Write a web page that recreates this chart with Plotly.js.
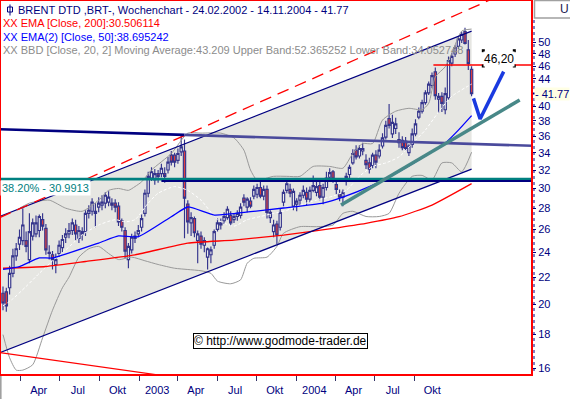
<!DOCTYPE html>
<html><head><meta charset="utf-8">
<script src="https://cdn.plot.ly/plotly-3.0.1.min.js"></script>
<style>html,body{margin:0;padding:0;background:#fff;}#chart{width:570px;height:399px;}</style>
</head><body><div id="chart"></div>
<script>
// ---------- DATA ----------
const firstWeek = '2002-02-24';
const openP  = [20.8,20.9,21.2,22.3,23.7,24.7,25.0,25.0,23.4,25.4,25.6,25.9,26.9,26.1,23.9,23.8,23.0,23.9,24.4,25.3,25.6,25.9,26.4,25.2,25.8,25.8,27.5,27.7,27.7,28.1,28.3,28.5,28.6,28.5,28.5,28.2,26.8,25.9,23.4,24.2,25.2,25.6,26.2,27.5,29.5,31.1,30.9,31.6,31.6,31.6,32.0,33.7,33.7,33.1,34.1,34.2,28.4,26.6,27.0,25.0,25.4,24.6,23.6,23.8,24.6,26.0,26.4,26.8,27.1,27.3,26.9,27.2,27.3,29.0,28.1,28.7,29.2,29.4,30.1,29.2,29.9,27.1,25.8,26.5,26.2,28.6,29.8,29.9,28.2,28.4,28.8,29.3,29.6,28.9,29.8,29.6,30.3,29.1,30.1,31.2,31.8,30.4,29.4,29.1,30.8,31.5,32.8,34.3,33.6,34.2,33.1,32.8,32.5,33.7,33.6,34.8,35.9,38.3,36.3,37.0,35.6,35.5,35.4,34.0,35.0,36.3,38.5,39.3,40.5,41.9,43.0,45.1,41.0,41.4,39.5,41.2,46.5,48.0,49.3,50.4,51.9,48.7,45.5];
const highP  = [21.3,21.2,22.9,24.3,24.8,26.0,28.0,25.8,27.5,27.0,27.3,27.4,27.5,26.5,24.6,24.1,23.9,25.0,25.5,26.1,26.6,27.0,26.9,26.3,26.2,27.8,28.3,29.0,28.5,29.1,29.3,29.6,29.7,29.0,28.9,28.6,27.0,26.2,24.8,25.6,25.8,26.4,27.4,29.9,31.8,32.3,32.1,32.0,32.7,32.3,33.5,34.2,34.0,34.5,36.1,35.6,28.8,27.6,27.2,25.9,25.8,25.3,24.4,24.5,26.0,27.0,27.0,27.6,28.2,27.7,27.5,27.8,28.5,29.4,29.1,29.1,30.3,30.5,30.8,30.3,30.3,27.8,26.9,26.8,28.0,29.9,31.0,30.5,30.0,29.0,29.6,30.3,30.1,30.2,31.4,31.0,30.9,30.5,31.8,32.2,32.0,30.9,29.9,29.9,31.7,32.6,34.4,34.9,34.9,35.2,33.8,33.4,34.0,34.3,35.0,36.4,38.0,40.3,38.8,38.4,36.5,36.0,35.9,35.0,37.0,38.2,39.8,40.9,42.3,43.6,45.0,45.8,41.9,42.0,42.7,47.6,48.2,49.5,51.0,51.9,52.6,50.4,46.0];
const lowP   = [19.6,19.5,20.7,22.0,23.3,24.2,24.6,24.0,23.1,25.0,25.3,25.3,25.9,23.8,23.4,22.6,22.3,23.6,24.0,24.8,25.2,25.5,25.0,24.8,25.0,25.4,27.0,27.3,26.2,27.6,27.8,28.0,28.2,27.8,27.6,26.3,25.8,23.5,22.7,23.9,24.8,25.3,25.8,27.2,29.1,30.8,30.4,30.6,31.2,30.6,31.6,32.5,32.3,32.7,33.6,25.2,25.6,25.4,25.3,23.1,24.3,24.0,22.6,23.1,24.3,25.8,26.0,26.5,26.9,26.3,26.6,26.8,27.0,28.2,27.6,28.0,28.9,29.0,29.0,28.8,27.0,26.6,25.3,24.7,25.9,28.2,29.5,29.1,27.8,27.7,28.3,29.0,28.3,28.6,29.6,29.2,28.8,28.4,29.8,31.0,30.6,29.4,28.7,28.2,30.3,31.1,32.6,33.2,33.3,33.7,32.1,31.6,32.2,32.2,33.3,34.5,35.6,37.0,35.8,36.3,34.6,34.3,34.2,33.6,34.6,36.0,38.2,39.0,40.2,41.6,42.6,40.9,39.1,39.2,38.9,40.9,46.0,47.5,48.8,49.9,49.6,45.4,41.4];
const closeP = [20.1,19.9,22.3,23.7,24.3,25.3,26.4,24.5,25.8,26.6,26.6,27.2,26.3,24.2,24.0,23.4,23.4,24.6,25.1,25.6,25.9,26.6,25.6,25.9,25.6,27.5,27.8,28.6,27.5,28.5,28.6,29.3,29.1,28.3,28.1,26.7,26.2,24.1,24.5,25.3,25.4,25.9,27.0,29.5,31.3,31.8,31.6,31.3,32.2,31.3,32.9,32.9,32.9,33.9,34.7,29.0,26.7,27.1,25.7,25.6,24.7,25.0,24.3,24.2,25.8,26.6,26.6,27.2,27.9,26.6,27.2,27.5,28.1,28.6,28.9,28.2,29.9,30.1,29.2,29.9,27.6,27.6,26.4,25.5,27.6,29.6,30.5,29.5,29.7,28.7,29.3,29.8,28.9,29.8,30.3,30.2,29.1,30.1,31.1,31.7,31.0,29.9,29.1,29.6,31.3,32.3,33.9,33.5,34.5,34.5,32.6,32.1,33.7,32.9,34.3,35.8,37.4,37.4,37.8,37.6,35.2,34.6,34.5,34.8,36.3,37.6,39.3,40.5,41.9,43.2,44.5,41.5,41.4,40.4,41.8,46.9,47.6,49.1,50.6,51.4,49.8,46.4,41.77];

// indicator lines: week number (1 = first candle) and value
const ema200Week = [1,14,26,41,57,71,86,101,111,121,131,143];
const ema200Val  = [22.70,22.84,23.24,23.79,24.78,25.05,25.49,26.10,26.56,27.18,28.31,30.51];
const ema50Week  = [1,6,12,16,30,36,42,52,57,65,76,86,98,104,112,121,127,135,139,143];
const ema50Val   = [22.61,22.83,23.53,23.53,24.79,25.41,25.35,27.18,28.12,27.34,27.66,28.02,28.51,29.11,30.19,31.81,33.13,35.16,36.79,38.70];
const bbUpWeek   = [6,9,15,20,25,30,33,36,39,41,43,46,52,57,61,67,71,74,76,78,83,87,91,95,100,104,107,110,113,116,120,124,128,130,132,135,137,140,143];
const bbUpVal    = [28.0,28.5,28.8,28.0,27.7,28.8,29.8,30.0,29.8,30.2,30.7,32.0,33.9,36.4,36.4,36.4,35.8,34.3,32.0,30.9,31.3,31.3,31.3,32.4,32.4,32.2,33.9,35.1,35.1,38.1,39.3,39.7,39.5,40.4,44.3,45.9,48.1,52.0,52.37];
const bbMidWeek  = [1,4,8,12,16,20,25,30,35,38,41,45,48,53,57,61,66,71,75,79,83,87,91,96,101,105,109,113,117,121,125,129,133,137,143];
const bbMidVal   = [19.9,20.4,21.3,22.3,23.3,24.2,25.5,26.4,26.9,26.7,26.9,28.5,29.5,30.2,29.8,28.8,26.9,26.3,26.9,27.2,27.5,27.8,28.3,28.8,29.2,29.8,31.3,32.4,32.8,33.5,35.1,36.8,39.2,41.4,43.21];
const bbLowWeek  = [1,3,5,7,10,13,16,19,21,24,27,30,33,36,40,44,48,53,57,61,64,66,70,73,75,77,81,84,86,91,96,101,104,107,111,115,118,121,125,128,131,134,137,140,143];
const bbLowVal   = [18.0,16.6,15.9,15.9,16.2,17.8,19.6,21.2,22.0,23.6,24.3,24.5,23.9,23.4,23.6,23.3,23.0,22.7,22.6,22.5,22.3,21.7,21.5,21.8,23.1,23.5,23.6,24.5,25.65,26.25,26.25,26.4,27.5,27.7,27.2,27.2,27.5,29.5,31.3,31.4,30.9,32.8,32.8,31.8,34.05];

// drawn trend lines: [date, value] end points
const chanDates   = ['2002-02-17','2004-11-14'];
const chanUpper   = [27.2, 52.0];
const chanLower   = [16.9, 32.1];
const fanDates    = ['2002-02-17','2005-03-20'];
const fanUpper    = [27.1, 61.8];
const fanLowDates = ['2002-02-17','2003-04-13'];
const fanLower    = [16.9, 15.33];
const resDatesA   = ['2002-02-17','2003-03-16'];
const resValsA    = [36.9, 36.18];
const resDatesB   = ['2003-03-16','2005-04-03'];
const resValsB    = [36.18, 34.8];
const fibLevel    = 30.9913;
const fibDates    = ['2002-02-01','2005-04-20'];
const supHDates   = ['2003-01-26','2005-04-20'];
const supHLevel   = 30.80;
const targetLevel = 46.20;
const targetDates = ['2004-08-25','2005-04-20'];
const supDates    = ['2004-02-11','2005-02-24'];
const supVals     = [28.31, 40.87];
const arrowDates  = ['2004-11-18','2004-12-02','2005-01-21'];
const arrowVals   = [41.1, 38.24, 45.13];

const tickDates  = ['2002-04-01','2002-07-01','2002-10-01','2003-01-01','2003-04-01','2003-07-01','2003-10-01','2004-01-01','2004-04-01','2004-07-01','2004-10-01'];
const tickLabels = ['Apr','Jul','Okt','2003','Apr','Jul','Okt','2004','Apr','Jul','Okt'];
const yTicks     = [16,18,20,22,24,26,28,30,32,34,36,38,40,41.77,44,46,48,50];
const yTickText  = ['16','18','20','22','24','26','28','30','32','34','36','38','40','','44','46','48','50'];
const lastClose  = 41.77;

// ---------- BUILD ----------
const DAY = 864e5;
const t0 = Date.parse(firstWeek + 'T00:00:00Z');
const weeks = closeP.map((_, i) => new Date(t0 + i * 7 * DAY).toISOString().slice(0, 10));
const wk = arr => arr.map(n => weeks[n - 1]);
const iso = ms => new Date(ms).toISOString().replace('T', ' ').replace('Z', '');

const W = 532, H = 375;               // plot area in px
const dayPx = 3.3 / 7;                // candle spacing
const mainStart = t0 - 3 / dayPx * DAY;
const mainEnd = mainStart + W / dayPx * DAY;
const tickPx = 0.4307;                // px per day of the date strip
const tickStart = Date.parse('2002-04-01T00:00:00Z') - 20.7 / tickPx * DAY;
const tickEnd = tickStart + W / tickPx * DAY;

const px = x => x / W, py = y => 1 - y / H;
const AX = '"Liberation Sans", Arial, sans-serif';
const SANS = '"Liberation Sans", Arial, sans-serif';
const NAVY = '#000080';
const CANDLE = '#34348c';

const line = (x, y, color, width, extra) => ({
  type: 'scatter', mode: 'lines', x, y, hoverinfo: 'skip', showlegend: false,
  line: Object.assign({color, width}, extra || {})
});

const traces = [
  {type: 'candlestick', x: weeks, open: openP, high: highP, low: lowP, close: closeP,
   increasing: {line: {color: CANDLE, width: 1.15}, fillcolor: 'rgba(255,255,255,0.35)'},
   decreasing: {line: {color: CANDLE, width: 1.15}, fillcolor: '#e04040'},
   whiskerwidth: 0, hoverinfo: 'skip', showlegend: false},
  line(wk(bbUpWeek), bbUpVal, '#999999', 1, {shape: 'spline', smoothing: 0.6}),
  line(wk(bbLowWeek), bbLowVal, '#999999', 1, {shape: 'spline', smoothing: 0.6}),
  line(wk(bbMidWeek), bbMidVal, '#ffffff', 1, {shape: 'spline', smoothing: 0.6, dash: '3px,2px'}),
  line(wk(ema200Week), ema200Val, '#ff0000', 1.3, {shape: 'spline', smoothing: 0.5}),
  line(wk(ema50Week), ema50Val, '#0000ff', 1.3, {shape: 'spline', smoothing: 0.5}),
  line(chanDates, chanUpper, NAVY, 1.2),
  line(chanDates, chanLower, NAVY, 1.2),
  line(fanDates, fanUpper, '#ff0000', 1.3, {dash: '12px,7px'}),
  line(fanLowDates, fanLower, '#ff0000', 1.2),
  line(resDatesA, resValsA, NAVY, 2.6),
  line(resDatesB, resValsB, '#4a4a9c', 2.6),
  line(fibDates, [fibLevel, fibLevel], '#008080', 2.6),
  line(supHDates, [supHLevel, supHLevel], NAVY, 2),
  line(targetDates, [targetLevel, targetLevel], '#ff0000', 1.5),
  line(supDates, supVals, '#488888', 3.5),
  line(arrowDates, arrowVals, '#1a3ae0', 3.5),
  // invisible carrier of the date strip
  {type: 'scatter', mode: 'markers', x: tickDates, y: tickDates.map(() => 20), xaxis: 'x2',
   marker: {opacity: 0}, hoverinfo: 'skip', showlegend: false}
];

// channel fill polygon (shape below the traces)
const chanPath = 'M' + chanDates.map((d, i) => d + ',' + chanUpper[i]).join('L') +
  'L' + chanDates.slice().reverse().map((d, i) => d + ',' + chanLower.slice().reverse()[i]).join('L') + 'Z';

const ann = (text, x, y, opts) => Object.assign({text, x, y, xref: 'paper', yref: 'paper',
  showarrow: false, xanchor: 'left', yanchor: 'middle'}, opts);

const layout = {
  width: 570, height: 399,
  margin: {l: 0, r: 570 - W, t: 0, b: 399 - H, pad: 0},
  paper_bgcolor: '#ffffff', plot_bgcolor: '#ffffff', showlegend: false,
  boxgap: 0.3, boxgroupgap: 0,
  xaxis: {type: 'date', range: [iso(mainStart), iso(mainEnd)], visible: false, fixedrange: true,
          rangeslider: {visible: false}},
  xaxis2: {type: 'date', overlaying: 'x', anchor: 'y', side: 'bottom',
           range: [iso(tickStart), iso(tickEnd)], tickmode: 'array', tickvals: tickDates, ticktext: tickLabels,
           ticks: 'outside', ticklen: 5, tickwidth: 1, tickcolor: '#333366', ticklabelshift: 18,
           showgrid: false, zeroline: false, showline: false, fixedrange: true,
           tickfont: {family: AX, size: 11, color: NAVY}},
  yaxis: {type: 'log', side: 'right', range: [Math.log10(15.63), Math.log10(57.97)],
          tickmode: 'array', tickvals: yTicks, ticktext: yTickText, ticks: 'outside', ticklen: 3,
          tickcolor: NAVY, tickwidth: 1, showgrid: false, zeroline: false, showline: false, fixedrange: true,
          tickfont: {family: AX, size: 11, color: NAVY}},
  shapes: [
    {type: 'path', xref: 'x', yref: 'y', path: chanPath, fillcolor: '#e6e6e2', line: {width: 0}, layer: 'below'},
    {type: 'rect', xref: 'paper', yref: 'paper', x0: 0, x1: 1, y0: 0, y1: 1, line: {color: '#ff0000', width: 2}, layer: 'above'},
    {type: 'line', xref: 'paper', yref: 'paper', x0: px(534), x1: px(534), y0: py(20), y1: py(372), line: {color: NAVY, width: 1, dash: 'dot'}},
    {type: 'rect', xref: 'paper', yref: 'paper', x0: px(534.5), x1: px(580), y0: py(18), y1: py(0.5), line: {color: '#a0a0a0', width: 1.5}},
    {type: 'line', xref: 'paper', yref: 'paper', x0: px(0.8), x1: px(0.8), y0: py(376), y1: py(399), line: {color: '#a0a0a0', width: 1.6}},
    // legend icon
    {type: 'rect', xref: 'paper', yref: 'paper', x0: px(7.5), x1: px(12.5), y0: py(12), y1: py(7), line: {color: NAVY, width: 1}},
    {type: 'line', xref: 'paper', yref: 'paper', x0: px(10), x1: px(10), y0: py(15.5), y1: py(4.5), line: {color: NAVY, width: 1}},
    // selection handles of the 46,20 label
    ...[[483.3, 50.7], [514.3, 50.7], [483.3, 66], [514.3, 66]].map(([a, b]) => ({
      type: 'rect', xref: 'paper', yref: 'paper', x0: px(a - 1.5), x1: px(a + 1.5), y0: py(b + 1.5), y1: py(b - 1.5),
      fillcolor: '#000000', line: {width: 0}, layer: 'above'}))
  ],
  annotations: [
    ann('BRENT DTD ,BRT-, Wochenchart - 24.02.2002 - 14.11.2004 - 41.77', px(16), py(10), {font: {family: SANS, size: 11, color: NAVY}}),
    ann('XX EMA [Close, 200]:30.506114', px(1), py(23.3), {font: {family: SANS, size: 11, color: '#ff0000'}}),
    ann('XX EMA(2) [Close, 50]:38.695242', px(1), py(36.7), {font: {family: SANS, size: 11, color: '#0000ff'}}),
    ann('XX BBD [Close, 20, 2] Moving Average:43.209 Upper Band:52.365252 Lower Band:34.052748', px(1), py(50), {font: {family: SANS, size: 11, color: '#8c8c8c'}}),
    ann('38.20% - 30.9913', px(0), py(188), {font: {family: SANS, size: 11, color: '#008080'}, bgcolor: '#ffffff', borderpad: 1}),
    ann('46,20', px(499), py(58.5), {xanchor: 'center', font: {family: SANS, size: 12, color: '#000000'}, bgcolor: '#ffffff', borderpad: 0}),
    ann('© http://www.godmode-trader.de', px(280), py(340.5), {xanchor: 'center', font: {family: SANS, size: 12, color: '#000000'},
        bgcolor: '#ffffff', bordercolor: '#000000', borderwidth: 1, borderpad: 0}),
    {text: '- ' + lastClose.toFixed(2), x: px(533.5), xref: 'paper', y: Math.log10(lastClose), yref: 'y', showarrow: false,
     xanchor: 'left', yanchor: 'middle', bgcolor: '#ffffe4', borderpad: 0, font: {family: AX, size: 11, color: NAVY}},
    ann('U', px(558), py(9), {font: {family: SANS, size: 12, color: '#202050'}})
  ]
};

Plotly.newPlot('chart', traces, layout, {staticPlot: true, displayModeBar: false});
</script></body></html>
